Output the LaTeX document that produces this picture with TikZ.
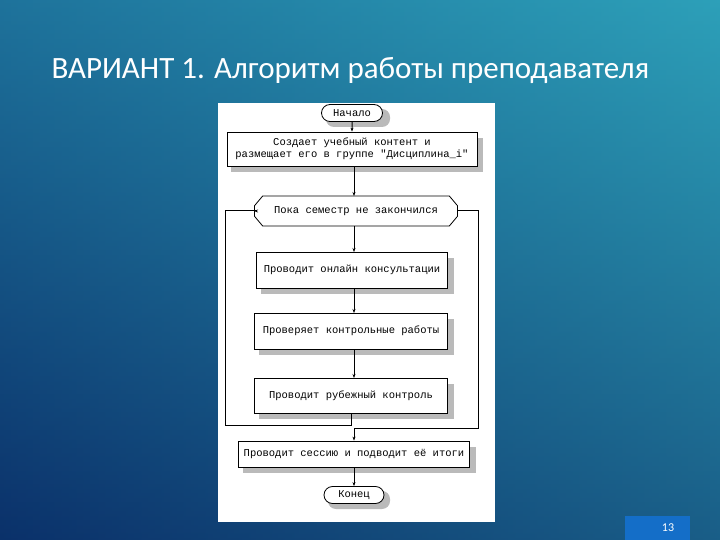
\documentclass[tikz,border=0pt]{standalone}
\usepackage{fontspec}
\setmainfont{Carlito}
\newfontfamily\mono{Liberation Mono}
\usetikzlibrary{shapes.misc,shapes.geometric,arrows.meta}
\definecolor{bgA}{RGB}{12,60,120}
\definecolor{bgB}{RGB}{45,160,185}
\definecolor{bgC}{RGB}{10,40,95}
\definecolor{pg}{RGB}{20,110,200}
\tikzset{
  every node/.style={font=\mono\fontsize{10.5}{12}\selectfont},
  box/.style={draw=black, fill=white, minimum height=#1, inner sep=2pt, align=center, line width=0.8pt},
  pill/.style={draw=black, fill=white, rounded rectangle, minimum width=63pt, minimum height=17pt, inner sep=1pt, line width=0.8pt},
  sh/.style={fill=black!45, opacity=0.6},
  ln/.style={line width=1pt},
  arr/.style={ln, -{Stealth[length=4pt,width=3pt]}},
}
\begin{document}
\begin{tikzpicture}[x=1pt,y=1pt]
\useasboundingbox (0,0) rectangle (720,-540);
\shade[left color=bgA, right color=bgB] (0,0) rectangle (720,-540);
\shade[top color=bgB, bottom color=bgC, opacity=0.55] (0,0) rectangle (720,-540);
\node[font=\fontsize{31}{34}\selectfont, text=white, anchor=west] (title) at (48,-70) {ВАРИАНТ 1. Алгоритм работы преподавателя};
\fill[white] (218,-103) rectangle (495,-522);
\fill[pg] (625,-516) rectangle (690,-540);
\node[font=\fontsize{12}{13}\selectfont, text=white] (pnum) at (668,-528) {13};
% shadows
\fill[sh] (231,-138) rectangle (483,-172);
\fill[sh] (261,-258) rectangle (454,-294);
\fill[sh] (259,-319) rectangle (454,-355);
\fill[sh] (259,-384) rectangle (454,-419);
\fill[sh] (243,-447) rectangle (476,-473);
\fill[sh, rounded corners=8pt] (326,-109) rectangle (390,-127);
\fill[sh, rounded corners=8pt] (328,-491) rectangle (390,-509);
% nodes
\node[pill] (start) at (352,-113) {Начало};
\node[box=34pt, minimum width=250pt] (b1) at (352,-149) {Создает учебный контент и\\размещает его в группе "Дисциплина\_i"};
\node[draw=black, fill=white, line width=0.8pt, chamfered rectangle, chamfered rectangle xsep=6pt, chamfered rectangle angle=40, minimum width=203pt, minimum height=30pt, inner sep=2pt] (loop) at (356,-211) {Пока семестр не закончился};
\node[box=36pt, minimum width=191pt] (b2) at (352,-270) {Проводит онлайн консультации};
\node[box=36pt, minimum width=193pt] (b3) at (351,-331) {Проверяет контрольные работы};
\node[box=35pt, minimum width=193pt] (b4) at (351,-396) {Проводит рубежный контроль};
\node[box=26pt, minimum width=231pt] (b5) at (354,-454) {Проводит сессию и подводит её итоги};
\node[pill, minimum width=62pt] (end) at (354,-495) {Конец};
\coordinate (lb) at (225,-425);
\coordinate (rb) at (478,-428);
% connectors
\draw[arr] (start) -- (start|-b1.north);
\draw[arr] (b1.south-|354,0) -- (354,-196);
\draw[arr] (354,-226) -- (354,-252);
\draw[arr] (354,-288) -- (354,-313);
\draw[arr] (354,-349) -- (354,-378);
\draw[ln] (351,-413.5) |- (lb) |- (loop.west);
\draw[arr] (255,-211) -- (loop.west);
\draw[ln] (loop.east) -| (rb) -- (354,-428);
\draw[arr] (354,-428) -- (b5.north);
\draw[arr] (b5.south) -- (end.north);
\end{tikzpicture}
\end{document}
